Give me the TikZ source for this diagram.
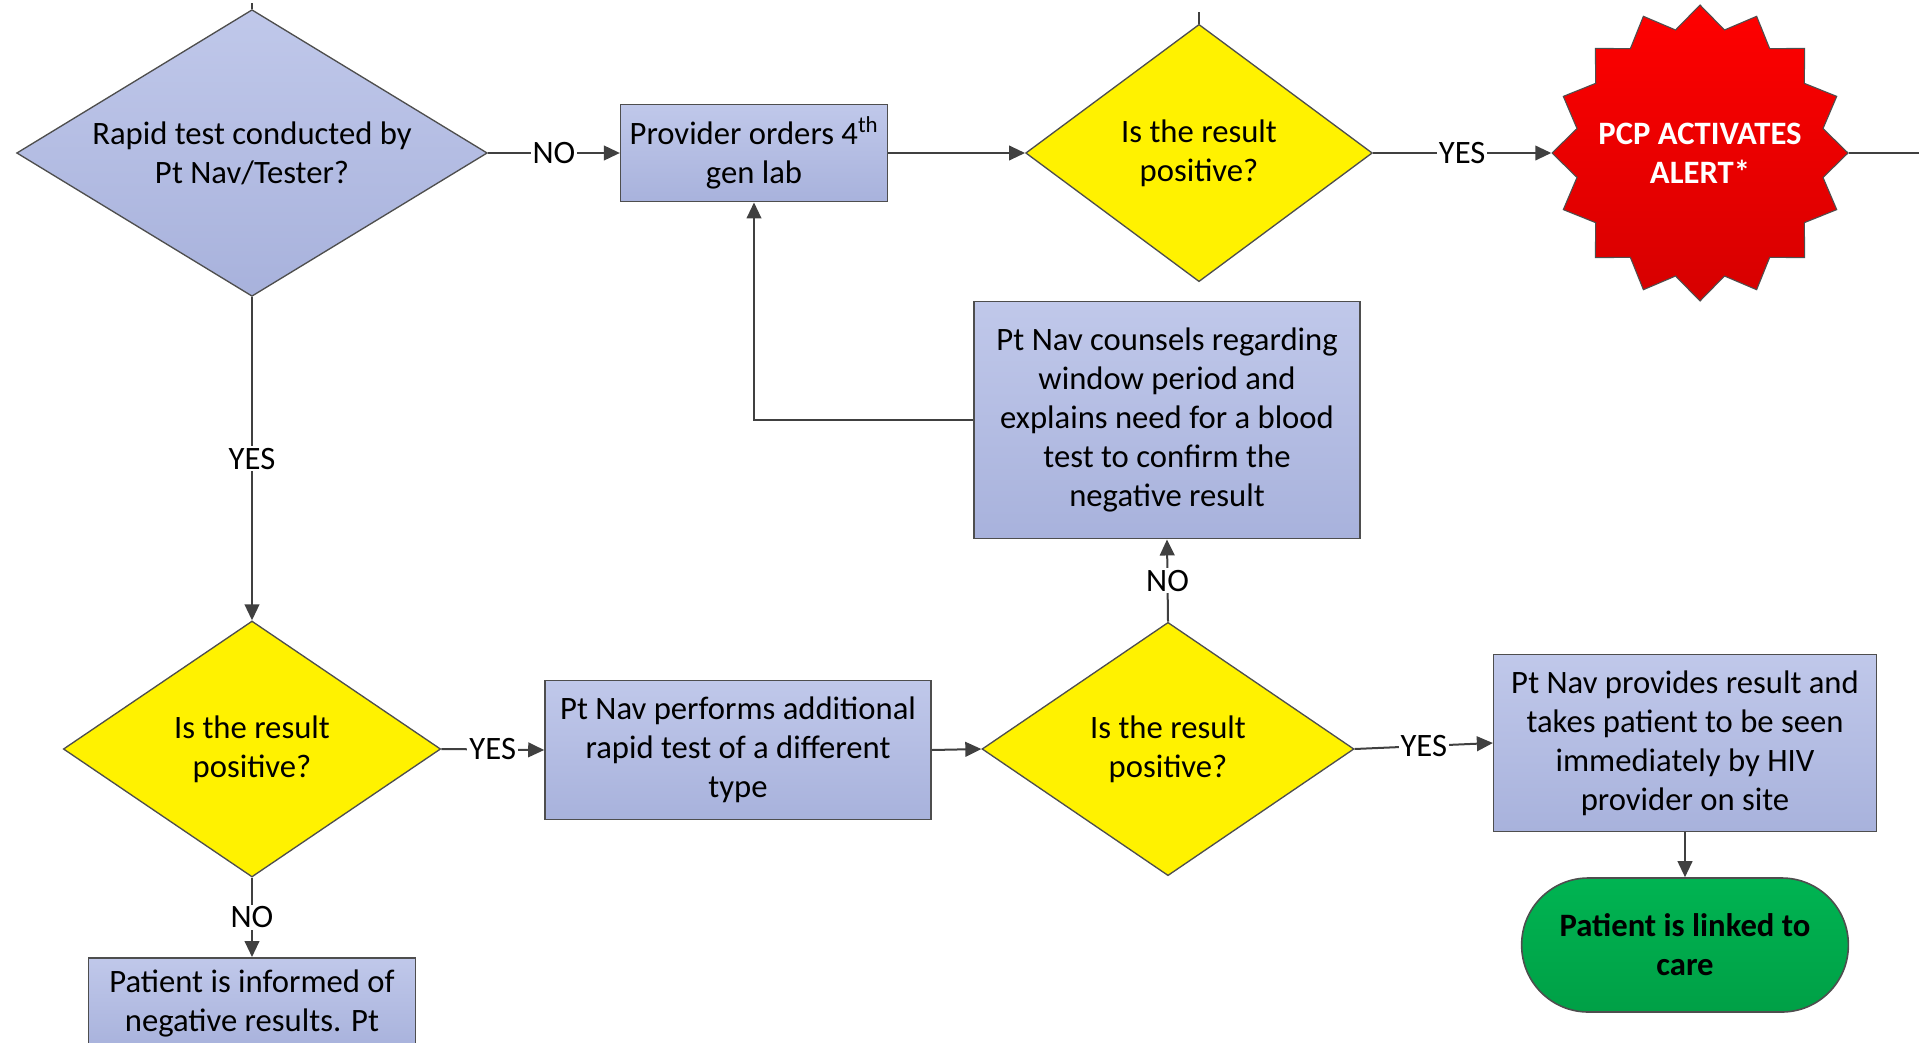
\documentclass[tikz,border=0pt]{standalone}
\usepackage{fontspec}
\setmainfont{Carlito}
\usetikzlibrary{shapes.geometric,arrows.meta}

\definecolor{boxtop}{RGB}{192,200,234}
\definecolor{boxbot}{RGB}{168,178,220}
\definecolor{linegray}{RGB}{64,64,64}
\definecolor{framegray}{RGB}{78,78,78}
\definecolor{alerttop}{RGB}{255,0,0}
\definecolor{alertbot}{RGB}{214,0,0}
\definecolor{caretop}{RGB}{0,180,82}
\definecolor{carebot}{RGB}{0,160,70}

\newcommand\flowfont{\fontsize{24.5}{29.3}\selectfont}

\tikzset{
  procbox/.style={rectangle, draw=framegray, line width=1.2pt, top color=boxtop, bottom color=boxbot, align=center, inner sep=0pt},
  decision/.style={diamond, draw=framegray, line width=1pt, fill=yellow, align=center, inner sep=0pt},
  link/.style={draw=linegray, line width=1.5pt, -{Triangle[length=12pt,width=11pt]}},
  plainline/.style={draw=linegray, line width=1.5pt},
  lbl/.style={fill=white, inner sep=1.5pt, midway},
}

\begin{document}
\begin{tikzpicture}[x=0.75pt,y=0.75pt,yscale=-1,xscale=1,font=\flowfont]
\useasboundingbox (0,0) rectangle (1919,1042);
\clip (0,0) rectangle (1919,1042);

%Shape: Diamond [rapid test]
\node[decision, top color=boxtop, bottom color=boxbot, minimum width=353pt, minimum height=215pt, aspect=1.64] (rapid) at (252,153) {Rapid test conducted by\\Pt Nav/Tester?};
%Shape: Rectangle [lab order]
\node[procbox, minimum width=200pt, minimum height=73pt] (provider) at (754,153) {Provider orders 4\textsuperscript{th}\\gen lab};
%Shape: Diamond [lab result]
\node[decision, minimum width=260pt, minimum height=193pt, aspect=1.35] (labpos) at (1199,153) {Is the result\\positive?};
%Shape: Star [alert]
\node[star, star points=16, star point ratio=1.18, minimum size=222pt, draw=framegray, line width=0.8pt, top color=alerttop, bottom color=alertbot, inner sep=0pt] (alert) at (1700,153) {};
% Text Node
\node[align=center, text=white, font=\flowfont\bfseries] (alerttext) at (alert) {PCP ACTIVATES\\ALERT*};
%Shape: Rectangle [counselling]
\node[procbox, minimum width=289.5pt, minimum height=178pt] (counsel) at (1167,420) {Pt Nav counsels regarding\\window period and\\explains need for a blood\\test to confirm the\\negative result};

%Shape: Diamond [first rapid result]
\node[decision, minimum width=283pt, minimum height=192pt, aspect=1.47] (firstpos) at (252,749) {Is the result\\positive?};
%Shape: Rectangle [second rapid test]
\node[procbox, minimum width=289.5pt, minimum height=104pt] (second) at (738,750) {Pt Nav performs additional\\rapid test of a different\\type};
%Shape: Diamond [second rapid result]
\node[decision, minimum width=279pt, minimum height=190pt, aspect=1.46] (secondpos) at (1168,749) {Is the result\\positive?};
%Shape: Rectangle [hiv provider]
\node[procbox, minimum width=287pt, minimum height=133pt] (hivprov) at (1685,743) {Pt Nav provides result and\\takes patient to be seen\\immediately by HIV\\provider on site};
%Shape: Terminal [linked]
\node[rectangle, rounded corners=50pt, draw=framegray, line width=1.2pt, top color=caretop, bottom color=carebot, minimum width=245pt, minimum height=100.5pt, align=center, inner sep=0pt, font=\flowfont\bfseries] (linked) at (1685,945) {Patient is linked to\\care};
%Shape: Rectangle [negative]
\node[procbox, minimum width=245pt, inner ysep=9pt, anchor=north] (informed) at (252,957) {Patient is informed of\\negative results. Pt};

% Free ends
\coordinate (rapidTop) at (252,3);
\coordinate (tickTop) at (1199,12);
\coordinate (offRight) at (1919,153);

% Connectors
\draw[plainline] (rapidTop) -- (rapid.north);
\draw[link] (rapid.east) -- node[lbl] {NO} (provider.west);
\draw[link] (provider.east) -- (labpos.west);
\draw[link] (labpos.east) -- node[lbl] {YES} (alert.west);
\draw[plainline] (alert.east) -- (offRight);
\draw[plainline] (tickTop) -- (labpos.north);
\draw[link] (counsel.west) -| (provider.south);
\draw[link] (rapid.south) -- node[lbl] {YES} (firstpos.north);
\draw[link] (firstpos.east) -- node[lbl] {YES} (second.west);
\draw[link] (second.east) -- (secondpos.west);
\draw[link] (secondpos.north) -- node[lbl] {NO} (counsel.south);
\draw[link] (secondpos.east) -- node[lbl] {YES} (hivprov.west);
\draw[link] (hivprov.south) -- (linked.north);
\draw[link] (firstpos.south) -- node[lbl] {NO} (informed.north);

\end{tikzpicture}
\end{document}
